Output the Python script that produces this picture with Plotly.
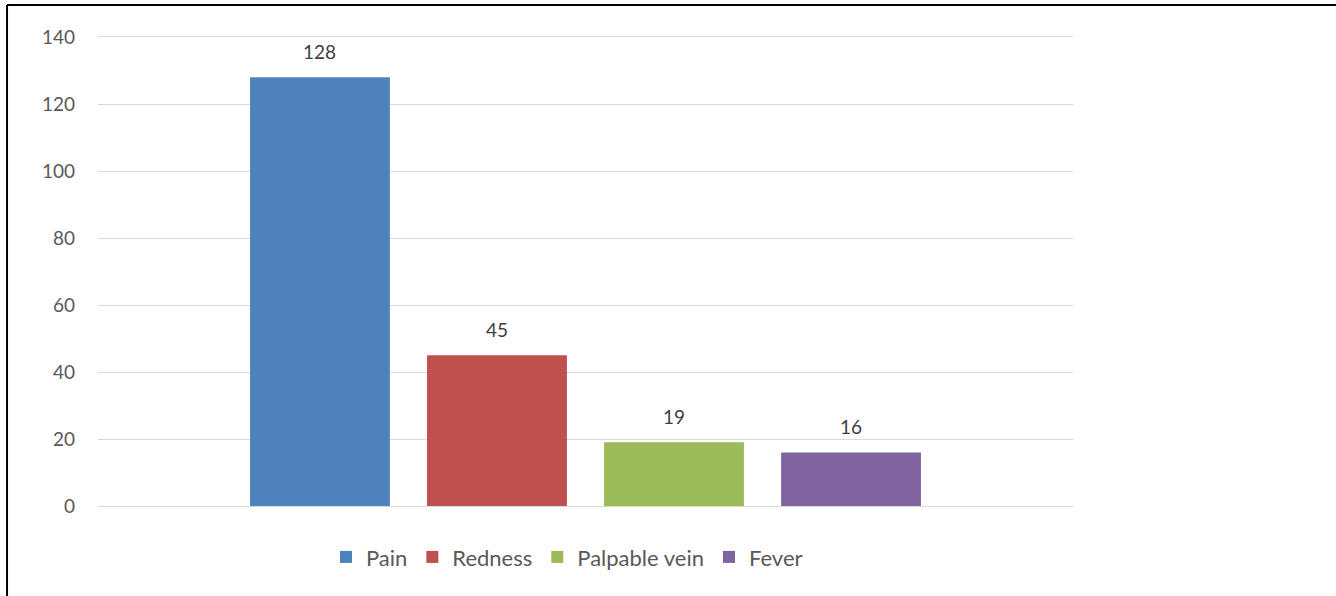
import plotly.graph_objects as go

symptoms = ["Pain", "Redness", "Palpable vein", "Fever"]
counts = [128, 45, 19, 16]
colors = ["#4F81BD", "#C0504D", "#9BBB59", "#8064A2"]
y_ticks = [0, 20, 40, 60, 80, 100, 120, 140]

FONT = "Lato, Carlito, Calibri, sans-serif"

fig = go.Figure()
for i, (name, val, col) in enumerate(zip(symptoms, counts, colors)):
    fig.add_trace(go.Bar(
        x=[i], y=[val], name=name, width=0.79,
        marker=dict(color=col, line=dict(width=0)),
        hoverinfo="name+y",
    ))
    fig.add_annotation(
        x=i, y=val, text=str(val), showarrow=False,
        yanchor="bottom", yshift=12,
        font=dict(family=FONT, size=19, color="#404040"),
    )

# outer chart border (left and top edges)
fig.add_shape(type="line", xref="paper", yref="paper",
              x0=-0.0933, x1=-0.0933, y0=-0.3, y1=1.068,
              line=dict(color="black", width=2))
fig.add_shape(type="line", xref="paper", yref="paper",
              x0=-0.0933, x1=1.3, y0=1.068, y1=1.068,
              line=dict(color="black", width=2))

fig.update_layout(
    width=1336, height=596,
    margin=dict(l=98, r=263, t=37, b=90),
    paper_bgcolor="white", plot_bgcolor="white",
    barmode="overlay",
    font=dict(family=FONT, size=19, color="#595959"),
    showlegend=True,
    legend=dict(orientation="h", x=0.481, xanchor="center",
                y=-0.109, yanchor="middle",
                font=dict(family=FONT, size=22, color="#595959"),
                itemwidth=30, traceorder="normal"),
    # horizontal rules at 0 and 140 come from the mirrored x-axis line
    xaxis=dict(range=[-1.254, 4.254], showticklabels=False,
               showgrid=False, zeroline=False,
               showline=True, mirror=True, linecolor="#D9D9D9", linewidth=1),
    yaxis=dict(range=[0, 140], tickvals=y_ticks,
               showgrid=True, gridcolor="#D9D9D9", gridwidth=1,
               zeroline=False, showline=False, ticks="",
               ticklabelstandoff=22,
               tickfont=dict(family=FONT, size=19, color="#595959")),
)

fig.write_html("out.html")
